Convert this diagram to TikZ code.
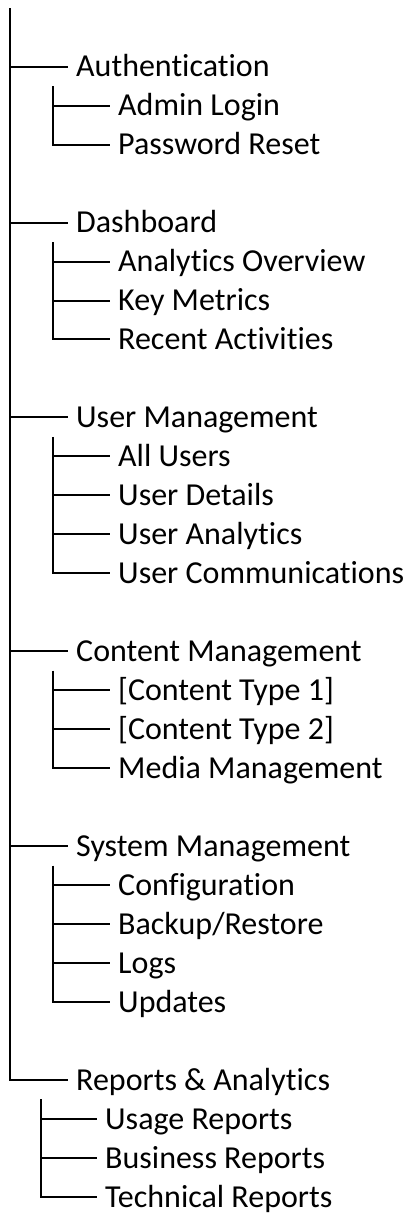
\documentclass[tikz,border=0pt]{standalone}
\usepackage{fontspec}
\setmainfont{Carlito}[Ligatures=CommonOff]
\usepackage{tikz}
\usetikzlibrary{positioning}

\tikzset{
  entry/.style={anchor=west, inner xsep=8pt, inner ysep=0pt,
    text height=20.5pt, text depth=0pt, font=\fontsize{32}{38}\selectfont},
  branch/.style={line width=2pt}
}

\begin{document}
\begin{tikzpicture}[x=1pt, y=-38.97pt]
  \useasboundingbox (0,-0.711) rectangle (406,30.44);
  \coordinate (root) at (10,-0.5);
  % top level
  \node[entry] (auth) at (68,1) {Authentication};
  \node[entry] (dash) at (68,5) {Dashboard};
  \node[entry] (users) at (68,10) {User Management};
  \node[entry] (content) at (68,16) {Content Management};
  \node[entry] (system) at (68,21) {System Management};
  \node[entry] (reports) at (68,27) {Reports \& Analytics};
  % second level
  \node[entry] (login) at (110,2) {Admin Login};
  \node[entry] (reset) at (110,3) {Password Reset};
  \node[entry] (overview) at (110,6) {Analytics Overview};
  \node[entry] (metrics) at (110,7) {Key Metrics};
  \node[entry] (recent) at (110,8) {Recent Activities};
  \node[entry] (allusers) at (110,11) {All Users};
  \node[entry] (details) at (110,12) {User Details};
  \node[entry] (uanalytics) at (110,13) {User Analytics};
  \node[entry] (comms) at (110,14) {User Communications};
  \node[entry] (typeone) at (110,17) {[Content Type 1]};
  \node[entry] (typetwo) at (110,18) {[Content Type 2]};
  \node[entry] (media) at (110,19) {Media Management};
  \node[entry] (config) at (110,22) {Configuration};
  \node[entry] (backup) at (110,23) {Backup/Restore};
  \node[entry] (logs) at (110,24) {Logs};
  \node[entry] (updates) at (110,25) {Updates};
  \node[entry] (usage) at (97,28) {Usage Reports};
  \node[entry] (business) at (97,29) {Business Reports};
  \node[entry] (technical) at (97,30) {Technical Reports};
  % trunk
  \draw[branch] (root) |- (reports.west);
  \foreach \n in {auth, dash, users, content, system}
    \draw[branch] (root |- \n.west) -- (\n.west);
  % sub trunks
  \coordinate (authbar) at (53,1.5);
  \coordinate (dashbar) at (53,5.5);
  \coordinate (usersbar) at (53,10.5);
  \coordinate (contentbar) at (53,16.5);
  \coordinate (systembar) at (53,21.5);
  \coordinate (reportsbar) at (41,27.5);
  \draw[branch] (authbar) |- (reset.west);
  \draw[branch] (dashbar) |- (recent.west);
  \draw[branch] (usersbar) |- (comms.west);
  \draw[branch] (contentbar) |- (media.west);
  \draw[branch] (systembar) |- (updates.west);
  \draw[branch] (reportsbar) |- (technical.west);
  \draw[branch] (authbar |- login.west) -- (login.west);
  \foreach \n in {overview, metrics}
    \draw[branch] (dashbar |- \n.west) -- (\n.west);
  \foreach \n in {allusers, details, uanalytics}
    \draw[branch] (usersbar |- \n.west) -- (\n.west);
  \foreach \n in {typeone, typetwo}
    \draw[branch] (contentbar |- \n.west) -- (\n.west);
  \foreach \n in {config, backup, logs}
    \draw[branch] (systembar |- \n.west) -- (\n.west);
  \foreach \n in {usage, business}
    \draw[branch] (reportsbar |- \n.west) -- (\n.west);
\end{tikzpicture}
\end{document}
